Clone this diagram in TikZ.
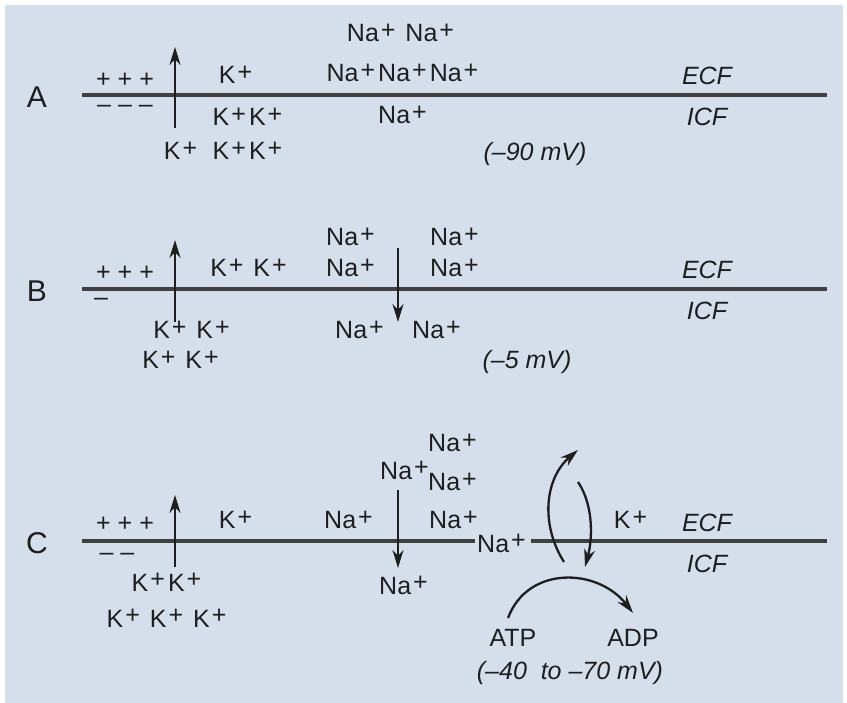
\documentclass[tikz,border=0pt]{standalone}
\usepackage{fontspec}
\setmainfont{Liberation Sans}
\usetikzlibrary{arrows.meta}
\definecolor{bgblue}{RGB}{213,223,236}
\definecolor{ink}{RGB}{30,30,30}
\def\pl{\kern2pt\raisebox{3.5pt}{+}\kern3pt}
\def\Kp{K\pl}
\def\Nap{Na\pl}
\def\pos{+\hspace{7pt}+\hspace{7pt}+}
\begin{document}
\begin{tikzpicture}[x=1pt,y=-1pt,>={Stealth[length=18pt,width=11pt]},line width=2.3pt,draw=ink]
\tikzset{every node/.style={font=\fontsize{25}{28}\selectfont,inner sep=1pt,text=ink,text height=18pt,text depth=0pt},
  fluid/.style={font=\fontsize{25}{28}\selectfont\itshape},
  panel/.style={font=\fontsize{30}{32}\selectfont,text height=21pt},
  membrane/.style={line width=3.4pt,draw=ink!85}}
\useasboundingbox (0,0) rectangle (847,703);
\fill[bgblue] (5,5) rectangle (843,703);
\path
(175,128)coordinate(kupA-s) (175,47)coordinate(kupA-e)
(175,322)coordinate(kupB-s) (175,240)coordinate(kupB-e)
(398,248)coordinate(nadnB-s) (398,322)coordinate(nadnB-e)
(175,567)coordinate(kupC-s) (175,495)coordinate(kupC-e)
(398,490)coordinate(nadnC-s) (398,568)coordinate(nadnC-e)
(564,562)coordinate(pumpNa-s) (578,450)coordinate(pumpNa-e)
(578,482)coordinate(pumpK-s) (585,567)coordinate(pumpK-e)
(508,618)coordinate(atp-s) (633,613)coordinate(atp-e)
;
\foreach \p/\y in {A/95,B/289,C/541}{
  \draw[membrane] (82,\y) coordinate(mem\p-l) -- (827,\y) coordinate(mem\p-r);
  \node[panel] (lab\p) at (37,\y+2) {\p};
  \node[fluid] (ecf\p) at (707,\y-19) {ECF};
  \node[fluid] (icf\p) at (707,\y+22) {ICF};
}
\foreach \s/\e in {kupA-s/kupA-e,kupB-s/kupB-e,nadnB-s/nadnB-e,kupC-s/kupC-e,nadnC-s/nadnC-e}
  \draw[->] (\s)--(\e);

\node (posA) at (125,79) {\pos};
\node (negA) at (125,104) {–\hspace{7pt}–\hspace{7pt}–};
\node (kA1) at (237,75) {\Kp};
\node (kA2) at (249,117) {\Kp\Kp};
\node (kA3) at (182,151) {\Kp};
\node (kA4) at (249,151) {\Kp\Kp};
\node (naA1) at (402,33) {\Nap\ \Nap};
\node (naA2) at (404,73) {\Nap\Nap\Nap};
\node (naA3) at (404,115) {\Nap};
\node[fluid] (mvA) at (535,152) {(–90 mV)};

\node (posB) at (125,272) {\pos};
\node (negB) at (101,297) {–};
\node (kB1) at (250,268) {\Kp\ \Kp};
\node (naB1) at (352,237) {\Nap};
\node (naB2) at (352,268) {\Nap};
\node (naB3) at (456,237) {\Nap};
\node (naB4) at (456,268) {\Nap};
\node (naB5) at (361,330) {\Nap};
\node (naB6) at (438,330) {\Nap};
\node (kB2) at (193,330) {\Kp\ \Kp};
\node (kB3) at (182,360) {\Kp\ \Kp};
\node[fluid] (mvB) at (527,360) {(–5 mV)};

\node (posC) at (125,523) {\pos};
\node (negC) at (117,551) {–\hspace{7pt}–};
\node (kC1) at (237,520) {\Kp};
\node (kC2) at (632,520) {\Kp};
\node (kC3) at (168,582) {\Kp\Kp};
\node (kC4) at (168,618) {\Kp\ \Kp\ \Kp};
\node (naC1) at (350,520) {\Nap};
\node (naC2) at (454,443) {\Nap};
\node (naC3) at (406,470) {\Nap};
\node (naC4) at (454,482) {\Nap};
\node (naC5) at (455,520) {\Nap};
\node (naC6) at (405,585) {\Nap};
\node[fill=bgblue,inner xsep=2pt] (naC7) at (503,543) {\Nap};
\node (atp) at (513,637) {ATP};
\node (adp) at (633,637) {ADP};
\node[fluid] (mvC) at (570,670) {(–40\ \ to –70 mV)};

\draw[->] (pumpNa-s) .. controls +(-24,-38) and +(-33,28) .. (pumpNa-e);
\draw[->] (pumpK-s) .. controls +(15,22) and +(8,-30) .. (pumpK-e);
\draw[->] (atp-s) .. controls +(20,-53) and +(-35,-45) .. (atp-e);
\end{tikzpicture}
\end{document}
